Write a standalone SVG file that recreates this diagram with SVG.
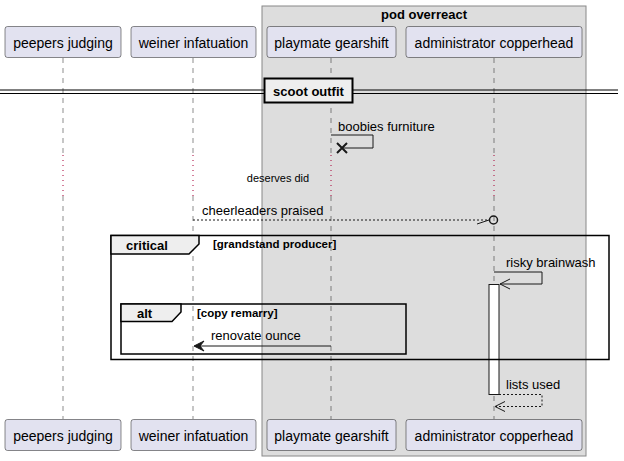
<svg xmlns="http://www.w3.org/2000/svg" width="624" height="461" viewBox="0 0 624 461">
<style>
.p{fill:#E2E2F0;stroke:#181818;stroke-width:0.5}
.t{font-family:"Liberation Sans",Arial,sans-serif;font-size:14px;fill:#000}
.m{font-family:"Liberation Sans",Arial,sans-serif;font-size:13px;fill:#000}
.s{font-family:"Liberation Sans",Arial,sans-serif;font-size:11px;fill:#000}
.b{font-family:"Liberation Sans",Arial,sans-serif;font-weight:bold;fill:#000}
.ll{stroke:#181818;stroke-width:0.5;stroke-dasharray:5,5;fill:none}
.dl{stroke:#A80036;stroke-width:1;stroke-dasharray:1,4;fill:none}
.ln{stroke:#181818;stroke-width:1;fill:none}
.dash{stroke:#181818;stroke-width:1;stroke-dasharray:2,2;fill:none}
.fr{fill:none;stroke:#000;stroke-width:1.5}
.tab{fill:#EEEEEE;stroke:#000;stroke-width:1.5}
</style>
<g id="box-pod">
<rect x="262" y="6" width="324" height="450" fill="#DDDDDD" stroke="#888888" stroke-width="1"/>
<text class="b" x="424" y="19" font-size="13" text-anchor="middle">pod overreact</text>
</g>
<g id="lifelines">
<line class="ll" x1="63" y1="58" x2="63" y2="155"/>
<line class="dl" x1="63" y1="155" x2="63" y2="196"/>
<line class="ll" x1="63" y1="196" x2="63" y2="419"/>
<line class="ll" x1="193" y1="58" x2="193" y2="155"/>
<line class="dl" x1="193" y1="155" x2="193" y2="196"/>
<line class="ll" x1="193" y1="196" x2="193" y2="419"/>
<line class="ll" x1="331" y1="58" x2="331" y2="155"/>
<line class="dl" x1="331" y1="155" x2="331" y2="196"/>
<line class="ll" x1="331" y1="196" x2="331" y2="419"/>
<line class="ll" x1="494" y1="58" x2="494" y2="155"/>
<line class="dl" x1="494" y1="155" x2="494" y2="196"/>
<line class="ll" x1="494" y1="196" x2="494" y2="419"/>
</g>
<g id="peepers-judging">
<rect class="p" x="5" y="26.5" width="116" height="31" rx="2.5"/>
<text class="t" x="63" y="47.5" text-anchor="middle">peepers judging</text>
<rect class="p" x="5" y="419.5" width="116" height="31" rx="2.5"/>
<text class="t" x="63" y="440.5" text-anchor="middle">peepers judging</text>
</g>
<g id="weiner-infatuation">
<rect class="p" x="131" y="26.5" width="125" height="31" rx="2.5"/>
<text class="t" x="193.5" y="47.5" text-anchor="middle">weiner infatuation</text>
<rect class="p" x="131" y="419.5" width="125" height="31" rx="2.5"/>
<text class="t" x="193.5" y="440.5" text-anchor="middle">weiner infatuation</text>
</g>
<g id="playmate-gearshift">
<rect class="p" x="267" y="26.5" width="129" height="31" rx="2.5"/>
<text class="t" x="331.5" y="47.5" text-anchor="middle">playmate gearshift</text>
<rect class="p" x="267" y="419.5" width="129" height="31" rx="2.5"/>
<text class="t" x="331.5" y="440.5" text-anchor="middle">playmate gearshift</text>
</g>
<g id="administrator-copperhead">
<rect class="p" x="406" y="26.5" width="176" height="31" rx="2.5"/>
<text class="t" x="494" y="47.5" text-anchor="middle">administrator copperhead</text>
<rect class="p" x="406" y="419.5" width="176" height="31" rx="2.5"/>
<text class="t" x="494" y="440.5" text-anchor="middle">administrator copperhead</text>
</g>
<g id="separator-scoot-outfit">
<line x1="0" y1="90" x2="618" y2="90" stroke="#000" stroke-width="1"/>
<line x1="0" y1="93.5" x2="618" y2="93.5" stroke="#000" stroke-width="1"/>
<rect x="264.5" y="78.5" width="88" height="24" fill="#EEEEEE" stroke="#000" stroke-width="2"/>
<text class="b" x="308.5" y="95.5" font-size="13" text-anchor="middle">scoot outfit</text>
</g>
<g id="activation">
<rect x="489" y="284.5" width="10" height="110" fill="#FFFFFF" stroke="#181818" stroke-width="1"/>
</g>
<g id="frame-critical">
<rect class="fr" x="111" y="235.5" width="498" height="124"/>
<path class="tab" d="M111,235.5 L199,235.5 L199,244 L189,254 L111,254 Z"/>
<text class="b" x="126" y="249.5" font-size="13">critical</text>
<text class="b" x="213" y="248" font-size="11.5">[grandstand producer]</text>
</g>
<g id="frame-alt">
<rect class="fr" x="121" y="304" width="285" height="50"/>
<path class="tab" d="M121,304 L181,304 L181,312 L172,321.5 L121,321.5 Z"/>
<text class="b" x="137" y="318" font-size="13">alt</text>
<text class="b" x="197" y="317" font-size="11.5">[copy remarry]</text>
</g>
<g id="connectors">
<path class="ln" d="M331,135 L373,135 L373,148 L342,148"/>
<path d="M337,143 L347,153 M347,143 L337,153" stroke="#181818" stroke-width="2" fill="none"/>
<text class="m" x="338" y="131">boobies furniture</text>
<text class="s" x="278" y="182" text-anchor="middle">deserves did</text>
<line class="dash" x1="193" y1="220" x2="489" y2="220"/>
<line x1="477" y1="224" x2="489" y2="220" stroke="#181818" stroke-width="1"/>
<circle cx="493.5" cy="220" r="4" fill="none" stroke="#181818" stroke-width="1.5"/>
<text class="m" x="202" y="215">cheerleaders praised</text>
<path class="ln" d="M494,272 L542,272 L542,284 L500,284"/>
<path class="ln" d="M510,279 L500,284 L510,289"/>
<text class="m" x="506" y="267">risky brainwash</text>
<line class="ln" x1="195" y1="346" x2="331" y2="346"/>
<path d="M194,346 L204,341 L200,346 L204,351 Z" fill="#181818" stroke="#181818" stroke-width="1"/>
<text class="m" x="211" y="340">renovate ounce</text>
<path class="dash" d="M499,394.5 L542,394.5 L542,406.5 L496,406.5"/>
<path class="ln" d="M505,401.5 L495,406.5 L505,411.5"/>
<text class="m" x="506" y="389">lists used</text>
</g>
</svg>
